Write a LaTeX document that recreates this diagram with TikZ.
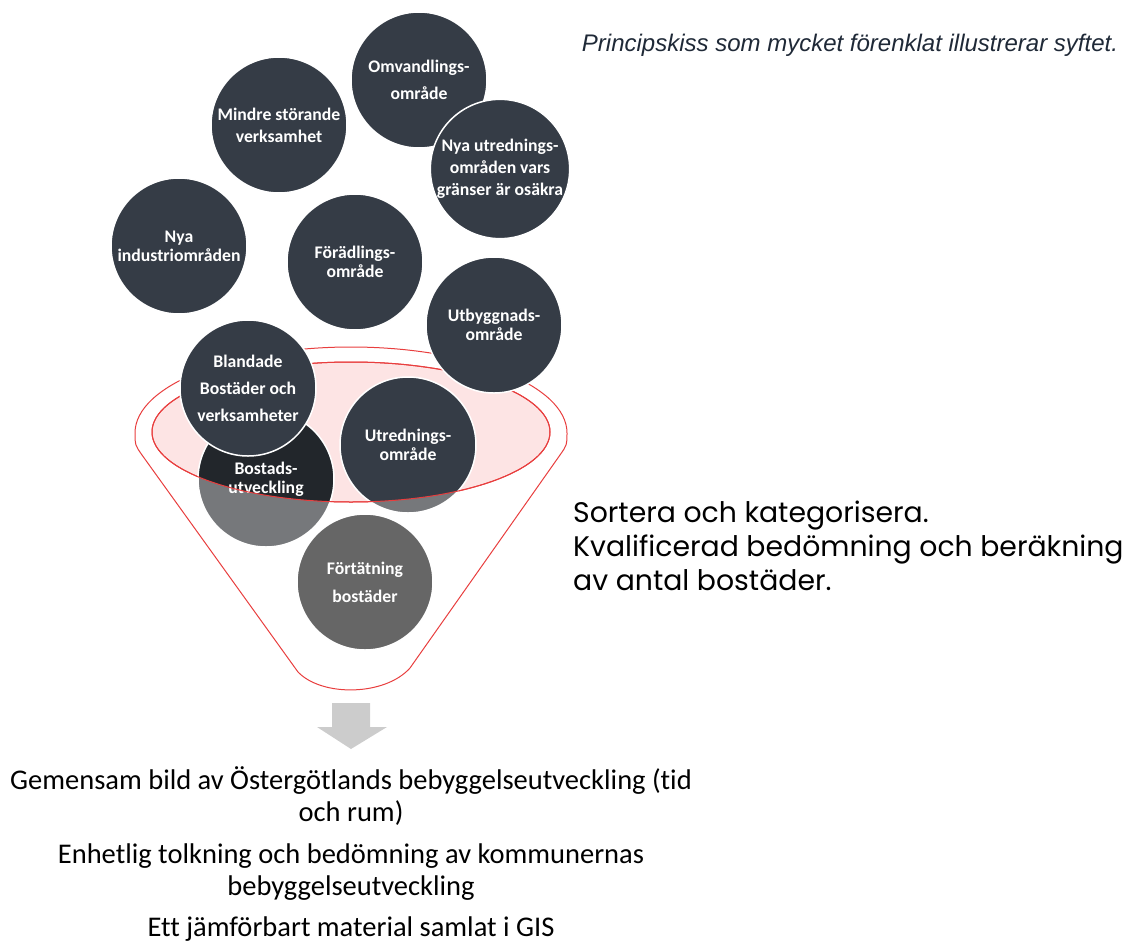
\documentclass[tikz,border=0pt]{standalone}
\usepackage{fontspec}
\usetikzlibrary{calc}
\usetikzlibrary{positioning}
\usetikzlibrary{shapes.geometric}
\newfontfamily\bubblefont[Ligatures=NoCommon]{Carlito}
\newfontfamily\sortfont{Poppins}
\newfontfamily\notefont{Liberation Sans}
\definecolor{bubblecol}{RGB}{53,60,70}
\definecolor{bubbledark}{RGB}{34,38,43}
\definecolor{bubblefade}{RGB}{118,120,123}
\definecolor{densecol}{RGB}{102,102,102}
\definecolor{funnelpink}{RGB}{253,228,228}
\definecolor{funnelred}{RGB}{232,62,62}
\definecolor{sinkgray}{RGB}{204,204,204}
\definecolor{notecol}{RGB}{31,41,55}
\tikzstyle{bubble} = [circle, 
minimum size=136pt, 
inner sep=0pt,
text centered, 
align=center,
draw=white, line width=1.5pt,
fill=bubblecol,
text=white,
font=\bubblefont\bfseries\fontsize{17.7}{19}\selectfont]
\tikzstyle{faded} = [bubble, 
fill=bubblefade, 
path picture={\fill[bubbledark] (funnelmid) ellipse [x radius=199pt, y radius=70pt];}]
\tikzstyle{funnel} = [draw=funnelred, line width=1pt]
\tikzstyle{result} = [align=center, 
font=\bubblefont\fontsize{28.5}{32}\selectfont]

\begin{document}
\begin{tikzpicture}[x=1pt, y=-1pt]
            \useasboundingbox (0,0) rectangle (1133,943);
            \coordinate (funnelmid) at (351,432);

            % funnel outline and the sorting rim
            \draw [funnel] (135,433) arc [start angle=180, end angle=360, x radius=216, y radius=86]
                .. controls (567,445) .. (560,455) -- (410,668)
                .. controls (385,696) and (322,697) .. (298,672)
                -- (142,455) .. controls (135,445) .. cycle;
            \draw [funnel, fill=funnelpink] (funnelmid) ellipse [x radius=199, y radius=70];

            % areas waiting above the funnel
            \node (industri) [bubble] at (179,246) {Nya\\ industriområden};
            \node (mindre) [bubble] at (279,125) {Mindre störande\\[3pt] verksamhet};
            \node (foradling) [bubble] at (355,262) {Förädlings-\\ område};
            \node (omvandling) [bubble] at (419,80) {Omvandlings-\\[8pt] område};
            \node (nyutred) [bubble] at (500,169) {Nya utrednings-\\[3pt] områden vars\\[3pt] gränser är osäkra};

            % areas already in the funnel
            \node (bostad) [faded] at (266,479) {Bostads-\\ utveckling};
            \node (utredning) [faded, path picture={\fill[bubblecol] (funnelmid) ellipse [x radius=199pt, y radius=70pt];}] at (408,445) {Utrednings-\\ område};
            \draw [funnel] (funnelmid) ellipse [x radius=199, y radius=70];
            \node (fortat) [bubble, fill=densecol] at (365,582) {Förtätning\\[9pt] bostäder};
            \node (blandad) [bubble] at (248,388) {Blandade\\[8pt] Bostäder och\\[8pt] verksamheter};
            \node (utbygg) [bubble] at (494,325) {Utbyggnads-\\ område};

            % outcome below the funnel
            \fill [sinkgray] (332,703) -- (370,703) -- (370,727) -- (387,727) -- (351,749) -- (317,727) -- (332,727) -- cycle;
            \node (goal1) [result] at (351,796) {Gemensam bild av Östergötlands bebyggelseutveckling (tid\\ och rum)};
            \node (goal2) [result] at (351,872) {Enhetlig tolkning och bedömning av kommunernas\\ bebyggelseutveckling};
            \node (goal3) [result] at (351,929) {Ett jämförbart material samlat i GIS};

            \node (sort) [anchor=west, align=left, inner sep=0pt, font=\sortfont\fontsize{28.3}{34}\selectfont] at (573,546) {Sortera och kategorisera.\\ Kvalificerad bedömning och beräkning\\ av antal bostäder.};
            \node (note) [text=notecol, font=\notefont\itshape\fontsize{24}{28}\selectfont] at (850,45) {Principskiss som mycket förenklat illustrerar syftet.};
        \end{tikzpicture}
\end{document}
